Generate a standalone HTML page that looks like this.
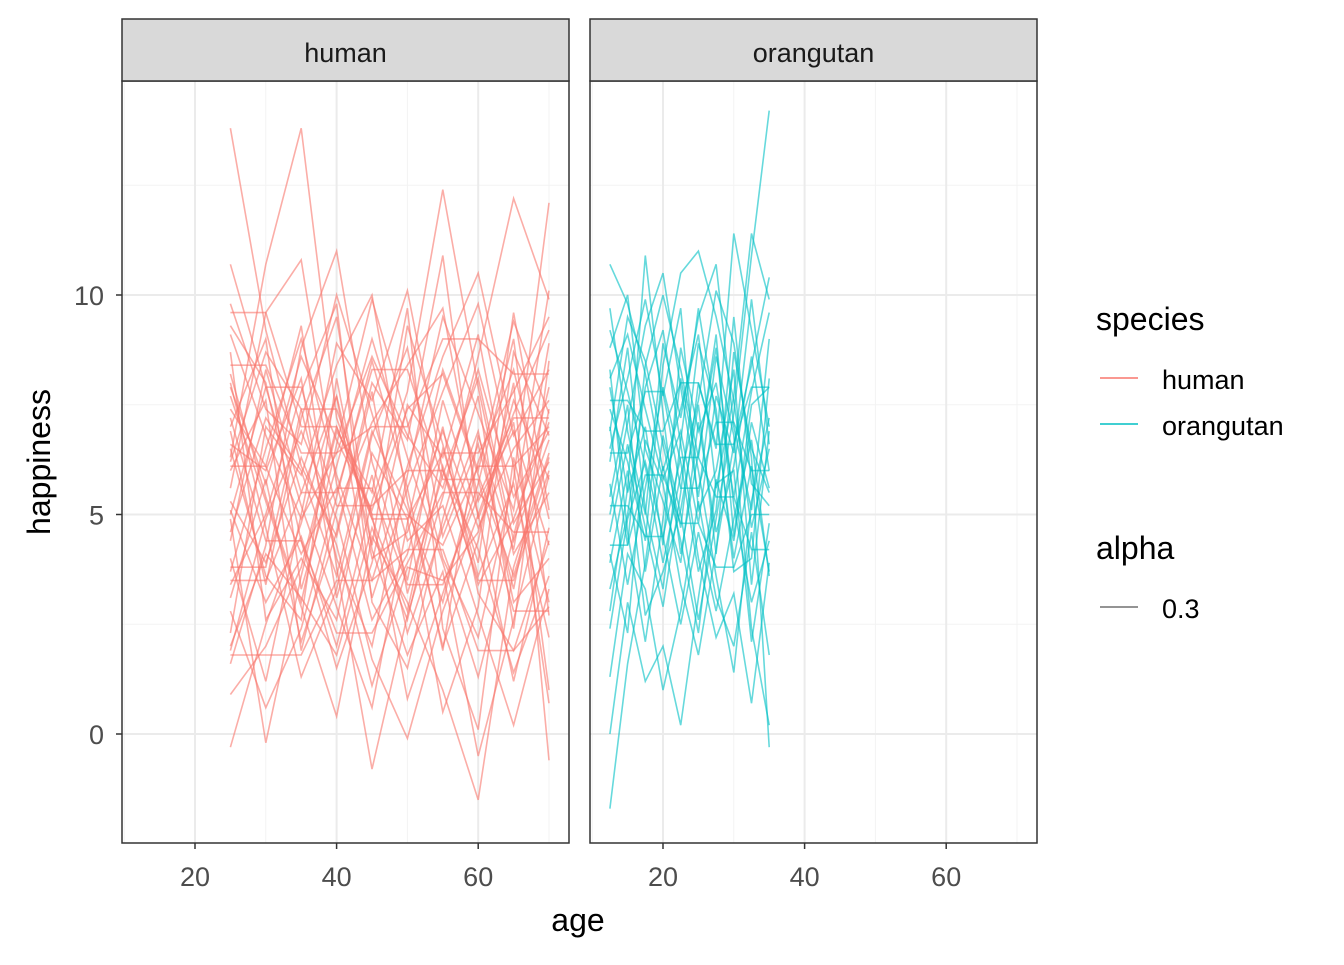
<!DOCTYPE html>
<html><head><meta charset="utf-8"><style>
body{margin:0;background:#fff}
svg text{font-family:"Liberation Sans",Arial,sans-serif}
</style></head><body>
<svg id="chart" width="1344" height="960" xmlns="http://www.w3.org/2000/svg">
<rect width="1344" height="960" fill="#fff"/>
<g id="panels"></g>
<text x="578" y="931" font-size="32" text-anchor="middle" fill="#000">age</text>
<text transform="translate(50,462) rotate(-90)" font-size="32" text-anchor="middle" fill="#000">happiness</text>
<g>
<text x="1096" y="330" font-size="32" fill="#000">species</text>
<line x1="1100" y1="378" x2="1138" y2="378" stroke="#F8766D" stroke-width="1.5"/>
<text x="1162" y="389" font-size="27" fill="#000">human</text>
<line x1="1100" y1="424" x2="1138" y2="424" stroke="#00BFC4" stroke-width="1.5"/>
<text x="1162" y="435" font-size="27" fill="#000">orangutan</text>
<text x="1096" y="559" font-size="32" fill="#000">alpha</text>
<line x1="1100" y1="607" x2="1138" y2="607" stroke="#555" stroke-width="1.2"/>
<text x="1162" y="618" font-size="27" fill="#000">0.3</text>
</g>
</svg>
<script>
const panelNames = ["human", "orangutan"];
const humanAges = [25,30,35,40,45,50,55,60,65,70];
const orangutanAges = [12.5,15,17.5,20,22.5,25,27.5,30,32.5,35];
const xTicks = [20,40,60];
const yTicks = [0,5,10];
const humanSeries = [
[13.8,9.2,6.1,4.5,7.8,3.2,5.9,8.1,4.4,6.7],
[6.3,10.7,13.8,7.2,4.9,2.8,6.5,3.9,9.6,5.1],
[-0.3,2.5,4.8,7.7,3.1,5.6,1.9,6.8,4.2,8.9],
[8.2,5.4,3.0,6.6,9.9,7.1,4.0,2.2,5.8,12.1],
[1.6,4.3,8.8,11.0,6.2,3.5,7.6,5.0,1.2,4.7],
[10.7,7.9,5.2,2.9,0.6,4.8,8.3,6.0,9.4,7.3],
[4.9,-0.2,3.6,6.9,5.5,9.7,2.4,0.1,6.3,3.0],
[7.4,6.1,9.3,3.8,-0.8,2.7,5.4,8.6,12.2,9.9],
[3.1,5.8,2.1,4.6,8.0,6.7,10.9,4.9,7.1,1.0],
[6.9,3.4,7.2,9.5,4.2,1.8,3.7,-0.5,2.6,5.9],
[9.3,8.0,4.4,1.5,3.9,7.5,6.3,9.1,4.8,6.2],
[2.3,7.0,5.9,8.4,10.0,5.3,2.0,4.4,8.0,-0.6],
[5.6,9.6,10.8,5.7,2.6,4.1,7.0,3.2,1.9,4.4],
[8.0,4.7,1.3,3.3,6.8,8.8,4.5,6.6,3.3,7.4],
[0.9,2.0,3.8,7.0,5.0,0.8,3.2,5.7,9.0,2.7],
[6.2,8.7,7.4,4.0,2.0,5.9,9.5,7.3,5.1,10.1],
[4.0,1.2,5.0,8.9,7.6,10.1,6.0,4.2,1.4,3.6],
[7.7,5.3,2.9,0.4,4.5,3.0,1.0,-1.5,3.8,6.4],
[3.7,6.5,9.0,5.9,3.5,6.1,8.6,10.5,6.8,8.3],
[9.8,7.4,6.6,10.0,7.3,4.4,5.2,2.7,0.2,3.3],
[5.1,3.0,4.5,2.0,5.3,7.8,12.4,7.9,4.1,5.5],
[1.9,4.9,6.9,4.9,1.7,-0.1,2.8,5.0,7.3,9.2],
[7.0,9.0,3.3,6.1,9.0,6.3,3.9,1.3,4.5,7.9],
[2.8,0.6,2.4,5.4,8.5,5.6,7.8,9.8,6.1,0.7],
[6.6,6.0,8.1,3.1,5.9,2.3,4.7,6.9,3.0,4.0],
[4.4,8.3,5.5,7.7,4.3,9.3,6.6,3.6,5.7,2.2],
[8.7,2.6,4.0,2.6,6.4,4.9,0.5,2.9,8.7,6.8],
[3.4,5.0,7.8,9.8,3.0,1.5,4.9,7.7,2.4,8.5],
[6.0,7.6,1.9,5.1,7.1,8.4,9.7,5.3,6.9,4.3],
[5.3,3.9,6.3,4.3,1.1,3.8,3.5,4.6,7.6,5.8],
[9.1,6.8,4.9,6.4,8.6,6.8,5.6,8.3,5.4,6.9],
[2.0,4.1,3.1,1.8,4.7,2.6,6.1,3.4,4.9,7.1],
[7.9,5.7,8.6,6.7,5.1,7.4,8.2,5.9,3.6,6.3],
[4.6,7.2,6.0,3.6,6.9,5.1,3.0,6.2,8.3,4.9],
[6.5,3.6,2.6,8.1,4.0,4.6,6.9,4.7,6.5,7.6],
[3.8,3.8,7.4,7.4,5.0,5.0,4.3,6.1,6.1,7.0],
[6.1,6.1,4.1,5.6,5.6,3.4,3.4,5.4,7.2,7.2],
[1.8,1.8,1.8,3.5,3.5,4.2,4.2,1.9,1.9,2.9],
[8.4,8.4,6.4,6.4,7.0,7.0,9.0,9.0,8.2,8.2],
[5.0,7.9,7.9,5.2,5.2,6.0,6.0,3.5,3.5,6.0],
[7.2,4.4,4.4,2.3,2.3,3.9,5.5,5.5,4.6,4.6],
[3.5,3.5,5.5,5.5,8.3,8.3,5.8,5.8,2.8,2.8],
[9.6,9.6,7.0,7.0,4.9,4.9,6.4,6.4,7.8,9.5]
];
const orangutanSeries = [
[10.7,9.8,8.2,6.0,7.4,9.1,5.6,7.7,11.4,9.9],
[2.8,5.6,10.9,7.3,4.1,6.4,8.8,5.2,3.0,4.4],
[-1.7,1.6,3.9,6.8,5.0,2.6,4.9,7.3,10.9,14.2],
[6.2,8.8,5.1,3.3,6.7,9.7,7.2,4.0,6.1,3.7],
[8.3,4.6,2.1,4.9,8.1,6.0,3.6,1.4,5.3,7.2],
[5.0,7.1,9.3,10.5,7.9,5.4,8.6,6.8,2.4,0.2],
[0.0,3.0,1.2,2.0,0.2,3.1,5.8,4.4,7.1,5.6],
[7.4,6.2,4.4,8.4,10.5,11.0,9.5,7.6,4.7,6.5],
[4.1,2.3,6.7,5.7,3.4,1.8,4.2,6.6,8.4,10.4],
[9.2,7.8,6.1,3.9,5.9,7.6,10.1,8.9,6.3,-0.3],
[3.3,5.0,7.9,9.2,6.6,4.0,2.2,3.2,0.7,3.9],
[6.9,9.5,8.5,6.6,4.7,8.0,6.5,11.4,9.2,7.0],
[1.3,4.1,3.3,1.0,2.8,5.3,3.1,2.0,4.6,1.8],
[7.9,5.5,7.0,4.3,8.8,6.9,8.0,5.4,7.8,9.6],
[5.7,3.4,5.6,7.9,6.2,3.7,5.1,9.5,5.7,5.2],
[8.8,10.0,6.5,5.3,3.9,7.1,4.6,6.1,8.6,6.0],
[4.6,6.6,4.7,2.9,5.5,8.9,7.4,3.7,4.0,8.1],
[6.5,8.1,9.9,7.7,9.7,5.1,6.0,8.3,3.4,6.9],
[2.4,4.9,6.2,4.5,2.5,4.6,2.8,4.9,6.7,3.6],
[9.7,6.9,5.0,8.9,7.2,9.5,10.7,7.0,5.1,9.0],
[5.4,7.5,3.7,6.1,4.4,2.3,5.7,6.0,2.1,4.8],
[7.0,4.3,8.4,10.0,8.3,6.3,9.1,4.5,7.5,7.9],
[3.9,6.0,2.7,3.7,5.1,7.5,4.1,8.7,6.5,5.5],
[8.1,9.1,7.4,5.8,6.9,4.8,7.7,6.4,9.9,6.6],
[6.4,6.4,7.8,7.8,5.6,5.6,7.1,7.1,6.0,6.0],
[5.2,5.2,4.5,4.5,6.3,6.3,5.4,5.4,4.2,4.2],
[7.6,7.6,6.9,6.9,8.0,8.0,6.6,6.6,7.9,7.9],
[4.3,4.3,5.9,5.9,4.8,4.8,3.8,3.8,5.0,5.0]
];

const NS = "http://www.w3.org/2000/svg";
const panels = [
  {name: panelNames[0], left: 122, ages: humanAges, series: humanSeries, color: "#F8766D"},
  {name: panelNames[1], left: 590, ages: orangutanAges, series: orangutanSeries, color: "#00BFC4"}
];
const PW = 447, TOP = 81, BOT = 843, STRIP_TOP = 19;
function xScale(left, v){ return left + 73 + (v - 20) * 7.08; }
function yScale(v){ return 734 - v * 43.9; }
function mk(tag, attrs, parent){ const e = document.createElementNS(NS, tag); for (const k in attrs) e.setAttribute(k, attrs[k]); parent.appendChild(e); return e; }
const root = document.getElementById("panels");
panels.forEach((p) => {
  const g = mk("g", {}, root);
  
  
  const cp = mk("clipPath", {id: "clip-" + p.name}, g);
  mk("rect", {x: p.left, y: TOP, width: PW, height: BOT - TOP}, cp);
  const minorX = [10,30,50,70], minorY = [2.5,7.5,12.5];
  minorX.forEach(v => { const l = mk("line", {x1: xScale(p.left,v), x2: xScale(p.left,v), y1: TOP, y2: BOT, stroke: "#F3F3F3", "stroke-width": 1, "clip-path": "url(#clip-" + p.name + ")"}, g);
    
     });
  minorY.forEach(v => { const l = mk("line", {x1: p.left, x2: p.left + PW, y1: yScale(v), y2: yScale(v), stroke: "#F3F3F3", "stroke-width": 1}, g);
    
     });
  xTicks.forEach(v => { const l = mk("line", {x1: xScale(p.left,v), x2: xScale(p.left,v), y1: TOP, y2: BOT, stroke: "#EBEBEB", "stroke-width": 2}, g);
    
    
    const t = mk("text", {x: xScale(p.left,v), y: 886, "font-size": 27, "text-anchor": "middle", fill: "#4D4D4D"}, g);
    t.textContent = v;
    
    
    mk("line", {x1: xScale(p.left,v), x2: xScale(p.left,v), y1: BOT, y2: BOT + 6, stroke: "#333", "stroke-width": 1.5}, g); });
  yTicks.forEach(v => { const l = mk("line", {x1: p.left, x2: p.left + PW, y1: yScale(v), y2: yScale(v), stroke: "#EBEBEB", "stroke-width": 2}, g);
    
     });
  const lg = mk("g", {"clip-path": "url(#clip-" + p.name + ")"}, g);
  p.series.forEach((s) => {
    const pts = s.map((v, j) => xScale(p.left, p.ages[j]).toFixed(1) + "," + yScale(v).toFixed(1)).join(" ");
    const pl = mk("polyline", {points: pts, fill: "none", stroke: p.color, "stroke-width": 1.6, "stroke-opacity": 0.6}, lg);
    
    
  });
  const border = mk("rect", {x: p.left, y: TOP, width: PW, height: BOT - TOP, fill: "none", stroke: "#333", "stroke-width": 1.5}, g);
  
  
  const strip = mk("rect", {x: p.left, y: STRIP_TOP, width: PW, height: TOP - STRIP_TOP, fill: "#D9D9D9", stroke: "#333", "stroke-width": 1.5}, g);
  
  
  const st = mk("text", {x: p.left + PW / 2, y: 62, "font-size": 27, "text-anchor": "middle", fill: "#1A1A1A"}, g);
  st.textContent = p.name;
  
  
});
yTicks.forEach(v => {
  const t = mk("text", {x: 104, y: yScale(v) + 10, "font-size": 27, "text-anchor": "end", fill: "#4D4D4D"}, root);
  t.textContent = v;
  
  
  mk("line", {x1: 116, x2: 122, y1: yScale(v), y2: yScale(v), stroke: "#333", "stroke-width": 1.5}, root);
});
</script>
</body></html>
